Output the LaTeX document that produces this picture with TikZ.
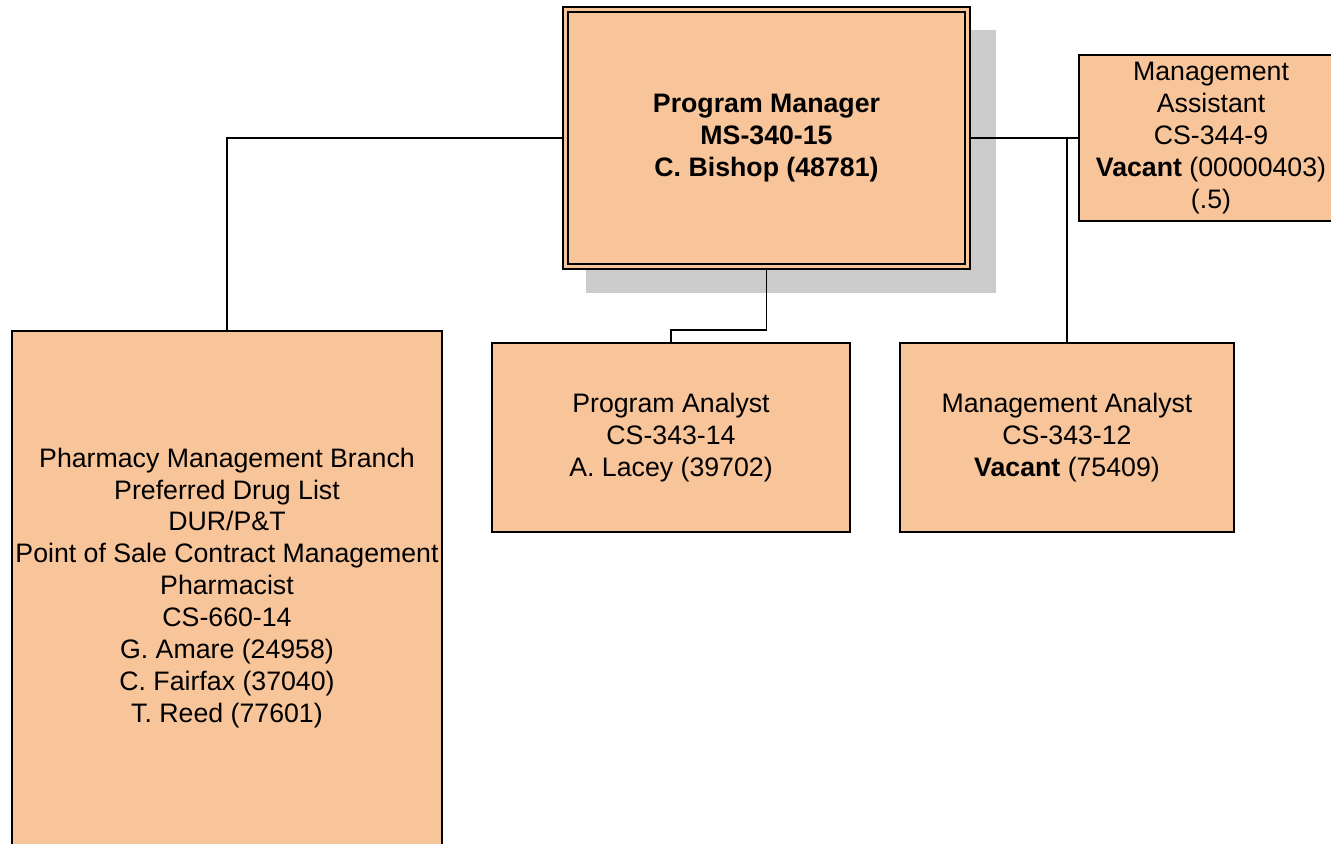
\documentclass[tikz,border=0pt]{standalone}
\usepackage{fontspec}
\setmainfont{Liberation Sans}
\usepackage{tikz}
\usetikzlibrary{shadows}
\usepackage{xcolor}
\definecolor{boxfill}{HTML}{F8C49A}
\definecolor{shadowgray}{HTML}{CCCCCC}

\begin{document}
\begin{tikzpicture}[
  x=0.02cm, y=-0.02cm,
  post/.style={draw,fill=boxfill,line width=1.2pt,align=center,inner sep=0pt,
    font=\fontsize{15.2}{18.2}\selectfont,minimum width=#1},
  head/.style={post=8.05cm,minimum height=5.15cm,double=boxfill,line width=1.1pt,
    double distance=1.6pt,font=\bfseries\fontsize{15.2}{18.2}\selectfont,
    drop shadow={fill=shadowgray,opacity=1,shadow xshift=0.48cm,shadow yshift=-0.46cm,shadow scale=1.02}},
  link/.style={line width=1.1pt}
  ]
\useasboundingbox (0,0) rectangle (1331,843);
\def\rowa{138}
\def\rowb{437.5}
\node[head] (pm) at (766.5,\rowa) {Program Manager\\MS-340-15\\C. Bishop (48781)};
\node[post=5.28cm,minimum height=3.32cm] (ma) at (1211,\rowa)
  {Management\\Assistant\\CS-344-9\\\textbf{Vacant} (00000403)\\(.5)};
\node[post=8.6cm,minimum height=10.28cm] (pharm) at (227,588)
  {Pharmacy Management Branch\\Preferred Drug List\\DUR/P\&T\\Point of Sale Contract Management\\Pharmacist\\CS-660-14\\G. Amare (24958)\\C. Fairfax (37040)\\T. Reed (77601)};
\node[post=7.16cm,minimum height=3.78cm] (pa) at (671,\rowb)
  {Program Analyst\\CS-343-14\\A. Lacey (39702)};
\node[post=6.68cm,minimum height=3.78cm] (mgan) at (1067,\rowb)
  {Management Analyst\\CS-343-12\\\textbf{Vacant} (75409)};
\draw[link] (pm.west) -| (pharm.north);
\draw[link] (pm.east) -- (ma.west);
\draw[link] (pm.east) -| (mgan.north);
\draw[link] (pm.south) -- ++(0,62) -| (pa.north);
\end{tikzpicture}
\end{document}
